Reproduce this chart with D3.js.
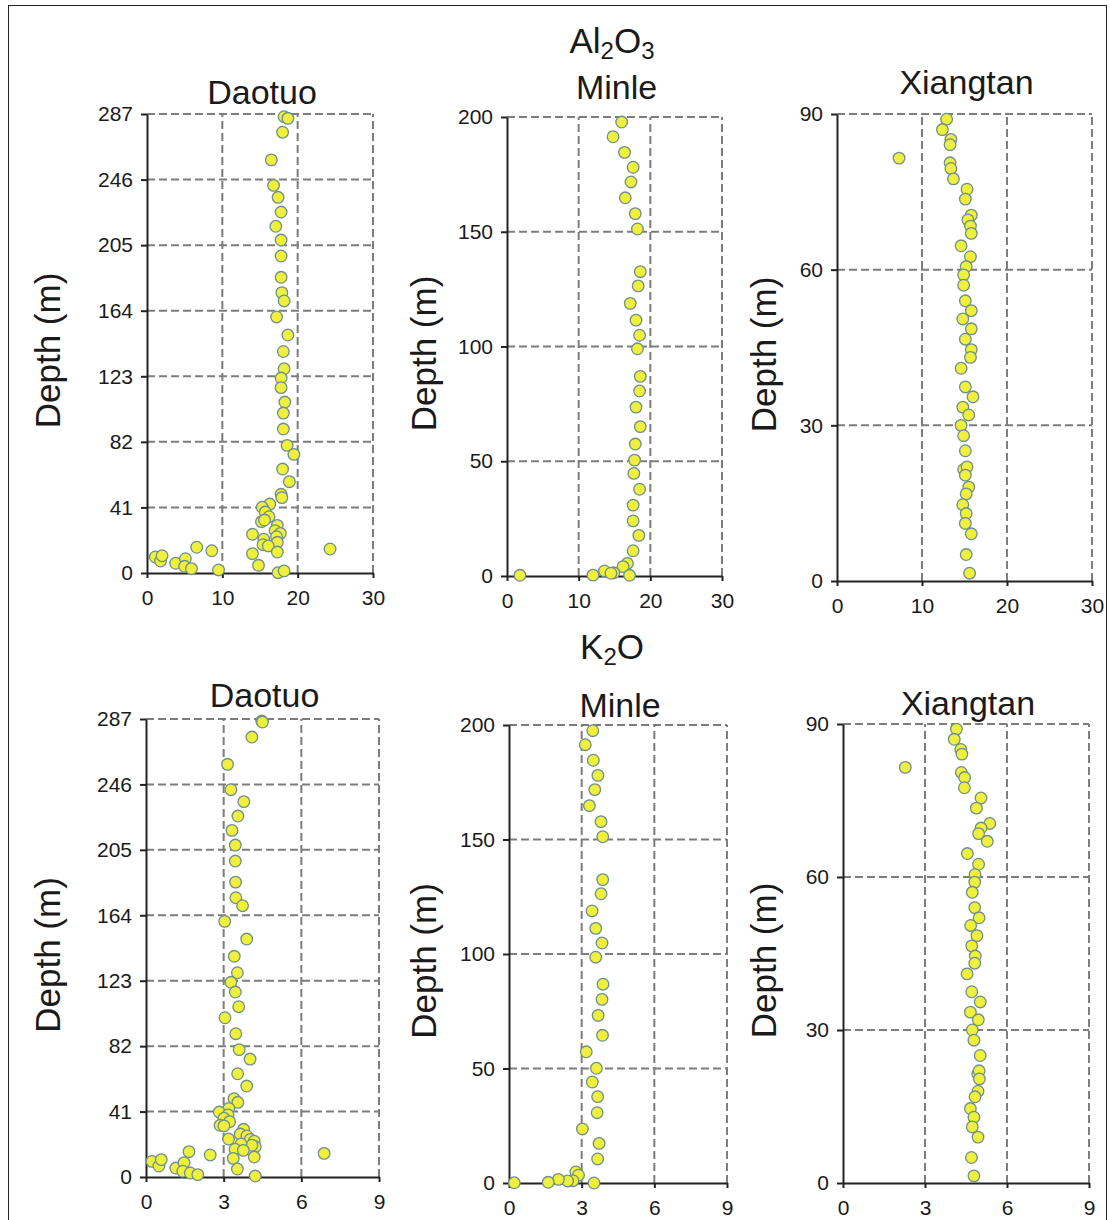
<!DOCTYPE html>
<html>
<head>
<meta charset="utf-8">
<script src="https://cdn.jsdelivr.net/npm/d3@7"></script>
<style>
  body { margin: 0; background: #fff; }
  text { font-family: "Liberation Sans", Arial, sans-serif; fill: #1a1a1a; }
</style>
</head>
<body>
<div id="chart"></div>
<script>
// ---- data ----
const al2o3Ticks = [0, 10, 20, 30];
const k2oTicks = [0, 3, 6, 9];
const daotuoDepthTicks = [0, 41, 82, 123, 164, 205, 246, 287];
const minleDepthTicks = [0, 50, 100, 150, 200];
const xiangtanDepthTicks = [0, 30, 60, 90];

const daotuoAl2O3 = [18.2, 18.7, 18.0, 16.5, 16.8, 17.4, 17.8, 17.1, 17.8, 17.8, 17.8, 17.9, 18.2, 17.2, 18.7, 18.1, 18.2, 17.8, 17.8, 18.3,
  18.1, 18.1, 18.6, 19.5, 18.0, 18.9, 17.8, 17.9, 16.3, 15.3, 15.7, 16.2, 15.2, 15.6, 17.3, 17.0, 17.7, 17.2, 17.3, 14.0,
  15.5, 15.4, 16.1, 17.3, 14.0, 14.8, 17.4, 18.2, 24.3, 1.1, 1.8, 2.0, 3.8, 5.1, 5.0, 5.9, 6.6, 8.6, 9.5];
const daotuoAl2O3Depth = [285.3, 284.3, 275.6, 258.3, 242.4, 234.9, 225.7, 216.8, 208.2, 198.2, 184.9, 175.3, 170.1, 160.1, 148.8, 138.5, 127.7, 121.9, 115.9, 106.9,
  100.0, 90.0, 79.8, 74.2, 65.0, 57.1, 49.2, 47.1, 43.1, 41.1, 38.1, 35.2, 32.1, 33.1, 29.8, 26.5, 24.8, 22.7, 19.2, 24.2,
  21.1, 17.7, 16.9, 13.1, 12.1, 4.8, 0.2, 1.3, 15.0, 10.0, 7.5, 10.8, 6.1, 8.9, 4.2, 2.7, 16.1, 13.9, 1.9];

const minleAl2O3 = [16.0, 14.8, 16.4, 17.6, 17.3, 16.5, 17.9, 18.2, 18.6, 18.3, 17.2, 18.0, 18.5, 18.2, 18.6, 18.5, 18.0, 18.6, 17.9, 17.8,
  17.7, 18.5, 17.6, 17.6, 18.4, 17.6, 16.8, 16.2, 17.1, 14.9, 13.6, 14.5, 12.0, 1.8];
const minleAl2O3Depth = [197.8, 191.4, 184.6, 178.1, 171.7, 164.8, 157.9, 151.2, 132.6, 126.4, 118.8, 111.5, 104.9, 99.0, 87.0, 80.6, 73.6, 65.1, 57.5, 50.5,
  44.7, 37.8, 30.9, 24.0, 17.7, 11.0, 5.5, 4.1, 0.3, 1.4, 2.2, 1.2, 0.4, 0.3];

const xiangtanAl2O3 = [12.9, 12.4, 13.4, 13.3, 7.3, 13.3, 13.4, 13.7, 15.3, 15.1, 15.8, 15.4, 15.7, 15.8, 14.6, 15.7, 15.2, 14.9, 14.9, 15.1,
  15.8, 14.8, 15.8, 15.1, 15.8, 15.7, 14.6, 15.1, 16.0, 14.8, 15.5, 14.6, 14.9, 15.1, 14.9, 15.3, 15.1, 15.5, 15.2, 14.8,
  15.2, 15.1, 15.8, 15.2, 15.6];
const xiangtanAl2O3Depth = [89.0, 87.0, 85.1, 84.1, 81.5, 80.6, 79.5, 77.5, 75.5, 73.6, 70.5, 69.6, 68.4, 67.0, 64.6, 62.5, 60.6, 59.0, 57.0, 54.0,
  52.1, 50.5, 48.6, 46.6, 44.6, 43.1, 41.0, 37.4, 35.5, 33.5, 32.0, 30.0, 28.0, 25.1, 21.5, 22.0, 20.4, 18.1, 16.8, 14.7,
  13.0, 11.1, 9.1, 5.1, 1.5];

const daotuoK2O = [4.47, 4.50, 4.09, 3.15, 3.28, 3.78, 3.55, 3.32, 3.45, 3.45, 3.46, 3.47, 3.73, 3.04, 3.89, 3.41, 3.53, 3.28, 3.45, 3.58,
  3.05, 3.47, 3.60, 4.02, 3.54, 3.89, 3.40, 3.55, 3.20, 2.83, 3.17, 3.01, 3.23, 2.86, 3.01, 3.77, 3.64, 3.90, 4.03, 4.18,
  4.22, 4.09, 3.19, 3.67, 3.44, 3.76, 4.18, 3.37, 3.53, 4.22, 6.88, 0.23, 0.50, 0.59, 1.15, 1.47, 1.42, 1.71, 2.00, 1.66, 2.48];
const daotuoK2ODepth = [285.7, 285.1, 275.7, 258.6, 242.7, 235.2, 226.2, 217.2, 208.0, 198.0, 184.8, 175.0, 170.0, 160.2, 149.1, 138.3, 128.0, 122.0, 115.9, 106.7,
  99.8, 89.8, 79.8, 73.9, 64.7, 57.0, 49.1, 46.8, 43.0, 40.7, 38.9, 36.8, 34.7, 32.4, 32.0, 29.9, 26.9, 25.7, 23.6, 22.4,
  19.0, 19.9, 23.8, 20.7, 17.4, 16.7, 12.5, 11.7, 5.0, 0.6, 14.8, 9.8, 6.9, 10.9, 5.6, 9.0, 3.6, 2.5, 1.5, 15.9, 13.8];

const minleK2O = [3.46, 3.15, 3.48, 3.67, 3.54, 3.32, 3.80, 3.87, 3.87, 3.80, 3.43, 3.58, 3.84, 3.58, 3.88, 3.84, 3.68, 3.86, 3.19, 3.61,
  3.44, 3.66, 3.64, 3.03, 3.72, 3.66, 2.76, 2.87, 3.51, 2.64, 2.42, 2.04, 1.62, 0.22];
const minleK2ODepth = [197.5, 191.4, 184.6, 178.0, 171.8, 164.8, 157.8, 151.2, 132.5, 126.3, 118.8, 111.2, 104.8, 98.6, 86.8, 80.2, 73.2, 64.5, 57.3, 50.1,
  44.1, 37.7, 30.7, 23.6, 17.3, 10.5, 4.8, 3.4, 0.0, 1.0, 0.9, 1.6, 0.3, 0.1];

const xiangtanK2O = [4.15, 4.07, 4.31, 4.35, 2.28, 4.33, 4.45, 4.44, 5.05, 4.88, 5.37, 5.05, 4.96, 5.28, 4.55, 4.96, 4.83, 4.82, 4.73, 4.82,
  4.98, 4.67, 4.90, 4.71, 4.84, 4.82, 4.54, 4.71, 5.02, 4.66, 4.95, 4.73, 4.79, 5.02, 4.93, 4.98, 4.99, 4.94, 4.83, 4.66,
  4.79, 4.73, 4.94, 4.70, 4.79];
const xiangtanK2ODepth = [89.0, 87.0, 85.0, 84.1, 81.5, 80.5, 79.5, 77.5, 75.5, 73.5, 70.5, 69.6, 68.5, 67.0, 64.6, 62.5, 60.5, 59.0, 57.0, 54.0,
  52.0, 50.5, 48.5, 46.5, 44.5, 43.1, 41.0, 37.5, 35.5, 33.5, 32.0, 30.0, 28.0, 25.0, 21.4, 22.0, 20.4, 18.0, 16.9, 14.6,
  12.9, 11.0, 9.0, 5.0, 1.4];

// ---- layout: pixel box of each plot area [left, right, top, bottom] ----
const panels = [
  { name: "Daotuo",   xs: daotuoAl2O3,   ds: daotuoAl2O3Depth,   xt: al2o3Ticks, yt: daotuoDepthTicks,   box: [147, 373, 114, 573],  titleY: 104, labelX: 60 },
  { name: "Minle",    xs: minleAl2O3,    ds: minleAl2O3Depth,    xt: al2o3Ticks, yt: minleDepthTicks,    box: [507, 722, 117, 576],  titleY: 99,  labelX: 436 },
  { name: "Xiangtan", xs: xiangtanAl2O3, ds: xiangtanAl2O3Depth, xt: al2o3Ticks, yt: xiangtanDepthTicks, box: [837, 1092, 114, 581], titleY: 94,  labelX: 776 },
  { name: "Daotuo",   xs: daotuoK2O,     ds: daotuoK2ODepth,     xt: k2oTicks,   yt: daotuoDepthTicks,   box: [146, 379, 719, 1177], titleY: 707, labelX: 60 },
  { name: "Minle",    xs: minleK2O,      ds: minleK2ODepth,      xt: k2oTicks,   yt: minleDepthTicks,    box: [509, 727, 725, 1183], titleY: 717, labelX: 436 },
  { name: "Xiangtan", xs: xiangtanK2O,   ds: xiangtanK2ODepth,   xt: k2oTicks,   yt: xiangtanDepthTicks, box: [843, 1089, 724, 1183], titleY: 715, labelX: 776 }
];

const svg = d3.select("#chart").append("svg")
  .attr("width", 1110)
  .attr("height", 1220);

svg.append("rect")
  .attr("x", 8.5).attr("y", 5.5)
  .attr("width", 1098).attr("height", 1240)
  .attr("fill", "#fff")
  .attr("stroke", "#222")
  .attr("stroke-width", 1);

// oxide headings with subscripts
function heading(x, y, parts) {
  const t = svg.append("text")
    .attr("x", x).attr("y", y)
    .attr("text-anchor", "middle")
    .style("font-size", "35px");
  parts.forEach(p => {
    t.append("tspan")
      .attr("dy", p.sub ? 6 : (p.after ? -6 : 0))
      .style("font-size", p.sub ? "24px" : "35px")
      .text(p.t);
  });
}
heading(612, 53, [{ t: "Al" }, { t: "2", sub: true }, { t: "O", after: true }, { t: "3", sub: true }]);
heading(612, 659, [{ t: "K" }, { t: "2", sub: true }, { t: "O", after: true }]);

panels.forEach(p => {
  const [x0, x1, y0, y1] = p.box;
  const x = d3.scaleLinear().domain([p.xt[0], p.xt[p.xt.length - 1]]).range([x0, x1]);
  const y = d3.scaleLinear().domain([p.yt[0], p.yt[p.yt.length - 1]]).range([y1, y0]);
  const g = svg.append("g");

  // dashed grid
  g.append("g").selectAll("line.v")
    .data(p.xt.slice(1))
    .enter().append("line")
    .attr("x1", d => x(d)).attr("x2", d => x(d))
    .attr("y1", y1).attr("y2", y0);
  g.append("g").selectAll("line.h")
    .data(p.yt.slice(1))
    .enter().append("line")
    .attr("x1", x0).attr("x2", x1)
    .attr("y1", d => y(d)).attr("y2", d => y(d));
  g.selectAll("line")
    .attr("stroke", "#7d7d7d")
    .attr("stroke-width", 2)
    .attr("stroke-dasharray", "8,4");

  // axes
  const ax = g.append("g")
    .attr("transform", `translate(0,${y1})`)
    .call(d3.axisBottom(x).tickValues(p.xt).tickSize(5).tickSizeOuter(0).tickPadding(12));
  const ay = g.append("g")
    .attr("transform", `translate(${x0},0)`)
    .call(d3.axisLeft(y).tickValues(p.yt).tickSize(6).tickSizeOuter(0).tickPadding(8));
  [ax, ay].forEach(a => {
    a.select(".domain").attr("stroke", "#222").attr("stroke-width", 2);
    a.selectAll(".tick line").attr("stroke", "#222").attr("stroke-width", 2);
    a.selectAll(".tick text")
      .style("font-size", "21px")
      .style("font-family", "\"Liberation Sans\", Arial, sans-serif")
      .attr("fill", "#1a1a1a");
  });

  // points
  g.append("g").selectAll("circle")
    .data(p.xs.map((v, i) => [v, p.ds[i]]))
    .enter().append("circle")
    .attr("cx", d => x(d[0]))
    .attr("cy", d => y(d[1]))
    .attr("r", 5.8)
    .attr("fill", "#eef03c")
    .attr("stroke", "#6f8f8f")
    .attr("stroke-width", 1.3);

  // site name and depth label
  svg.append("text")
    .attr("x", (x0 + x1) / 2 + 2)
    .attr("y", p.titleY)
    .attr("text-anchor", "middle")
    .style("font-size", "34px")
    .text(p.name);
  svg.append("text")
    .attr("transform", `translate(${p.labelX},${(y0 + y1) / 2 + 7}) rotate(-90)`)
    .attr("text-anchor", "middle")
    .style("font-size", "35px")
    .text("Depth (m)");
});
</script>
</body>
</html>
